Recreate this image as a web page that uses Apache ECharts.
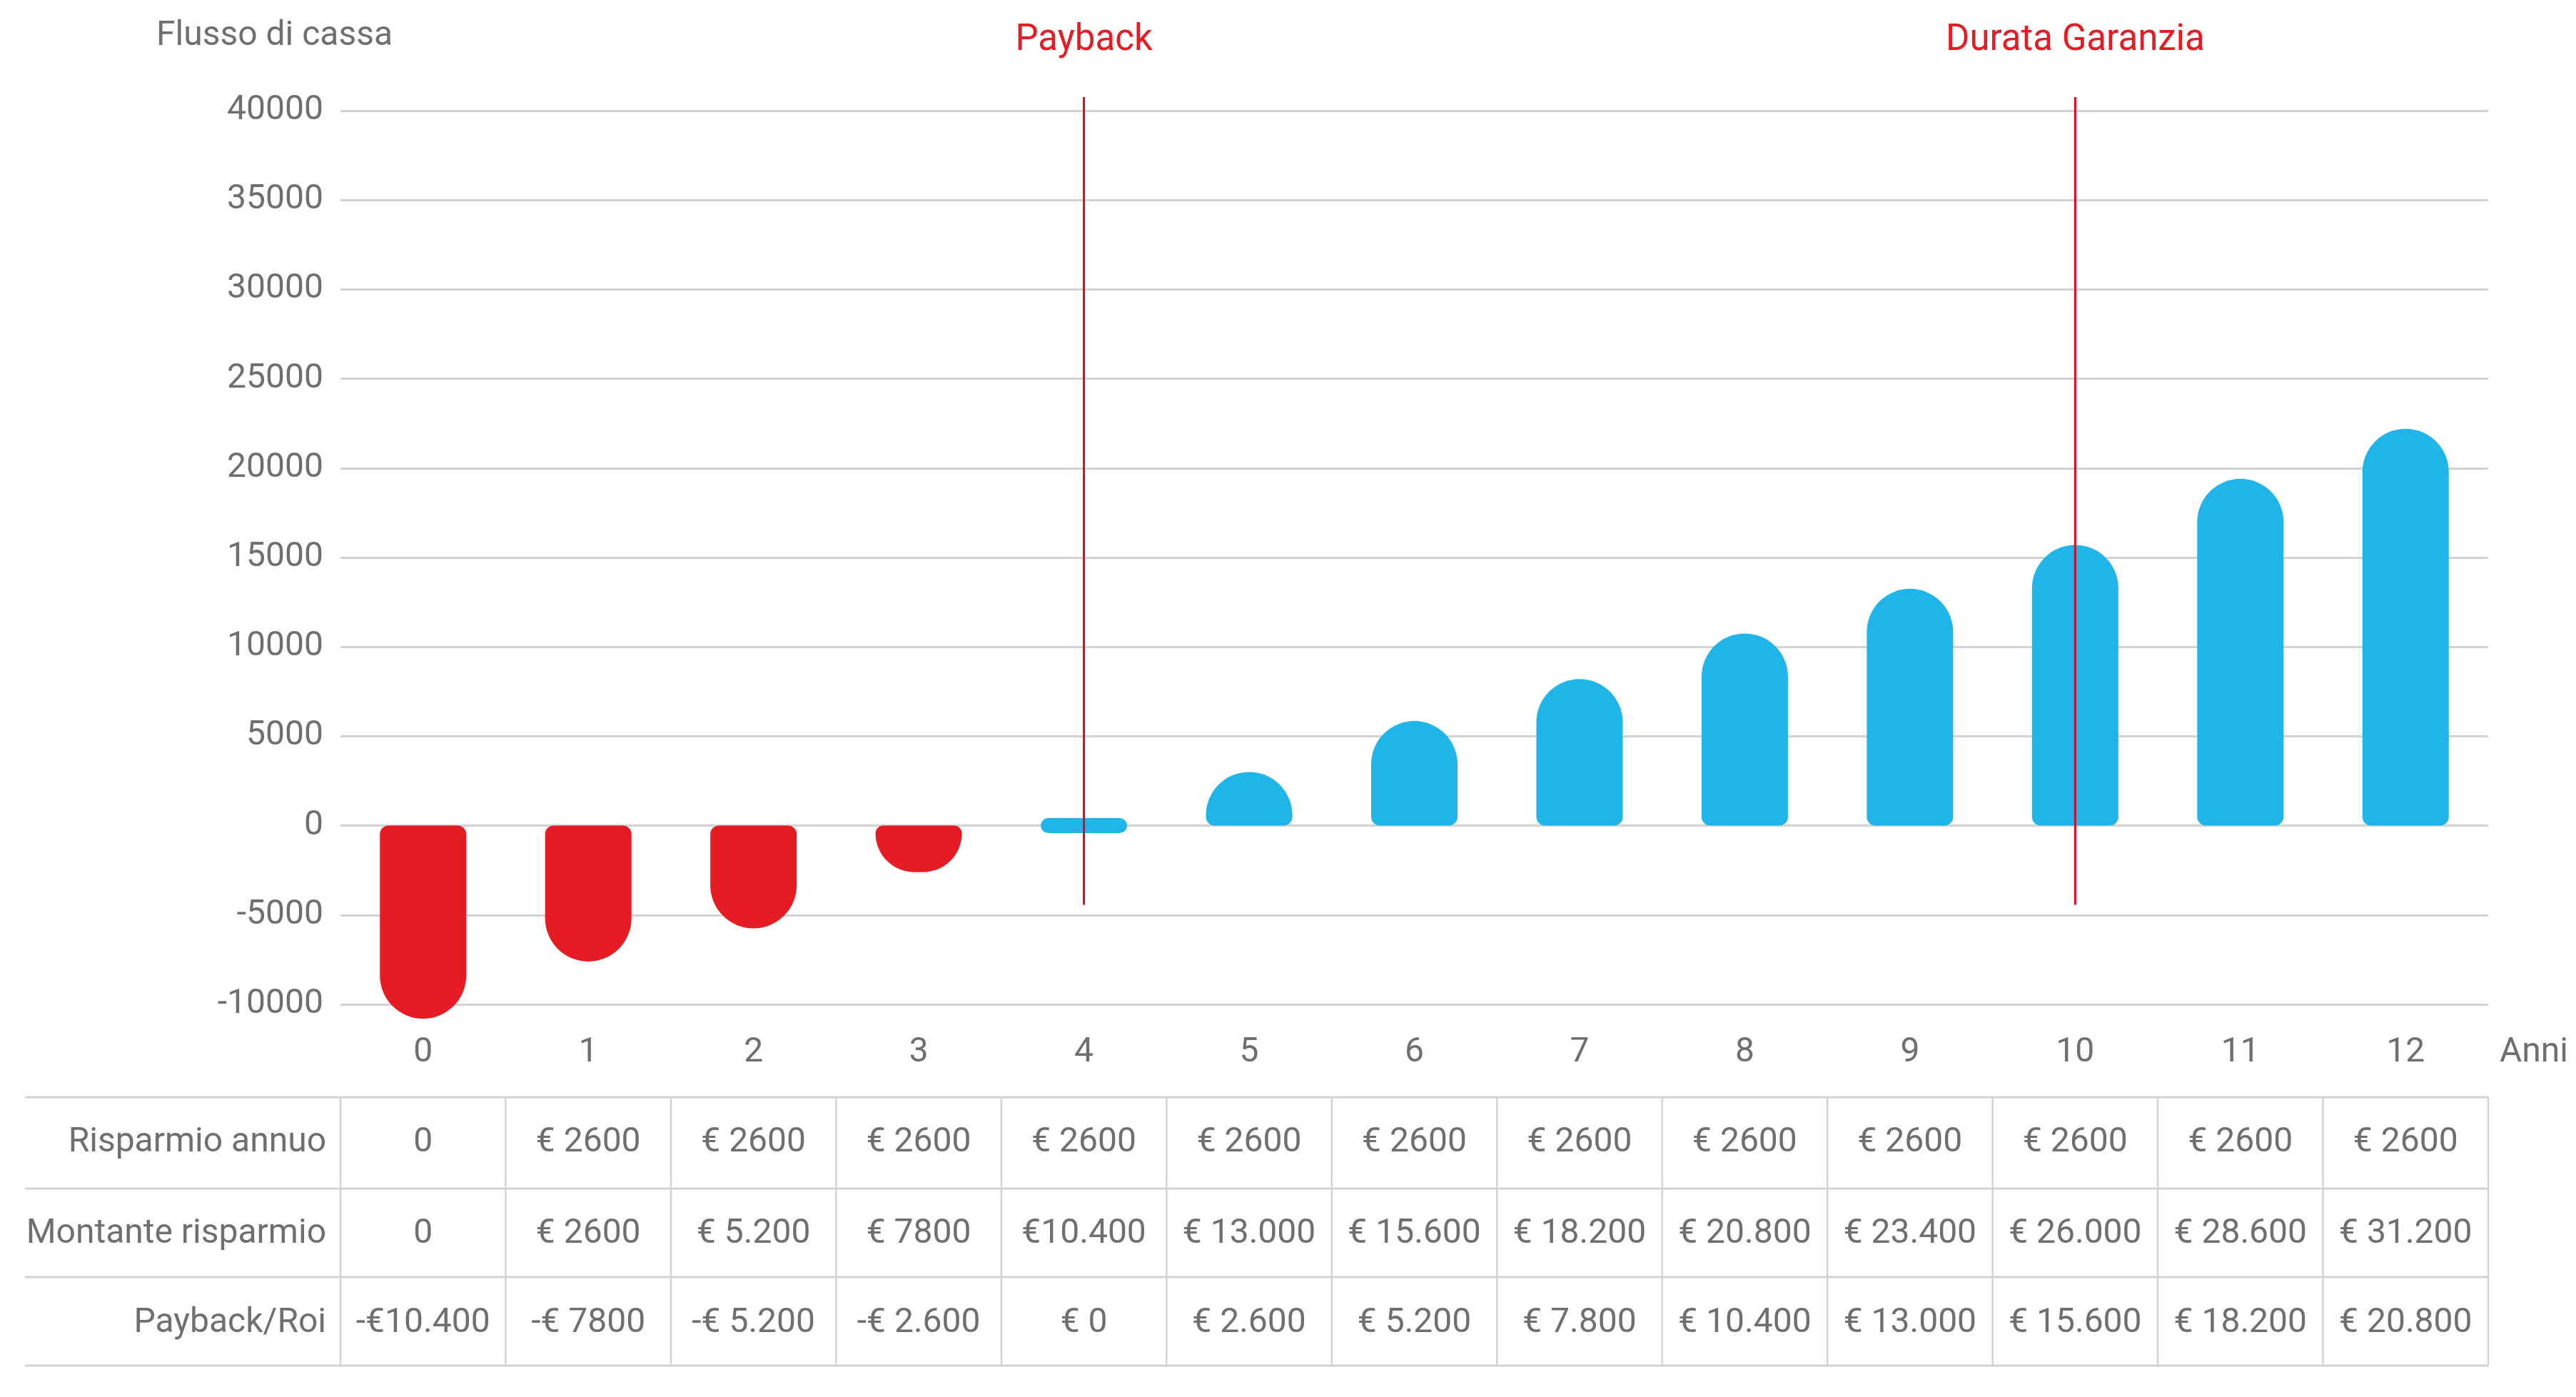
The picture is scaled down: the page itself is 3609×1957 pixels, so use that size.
<!DOCTYPE html>
<html>
<head>
<meta charset="utf-8">
<script src="https://cdn.jsdelivr.net/npm/echarts@6/dist/echarts.min.js"></script>
<style>
html,body{margin:0;padding:0;background:#ffffff;}
#chart{width:3609px;height:1957px;}
</style>
</head>
<body>
<div id="chart"></div>
<script>
// ---------- data ----------
const years = ['0','1','2','3','4','5','6','7','8','9','10','11','12'];
const cashFlow = [-10800, -7600, -5750, -2600, 0, 3000, 5850, 8200, 10750, 13250, 15700, 19400, 22200];
const yMin = -10000;
const yMax = 40000;
const yInterval = 5000;
const markerNames = ['Payback', 'Durata Garanzia'];
const markerYears = [4, 10];
const markerSpan = [-4430, 40760];
const yAxisTitle = 'Flusso di cassa';
const xAxisTitle = 'Anni';
const rowNames = ['Risparmio annuo', 'Montante risparmio', 'Payback/Roi'];
const risparmioAnnuo = ['0','€ 2600','€ 2600','€ 2600','€ 2600','€ 2600','€ 2600','€ 2600','€ 2600','€ 2600','€ 2600','€ 2600','€ 2600'];
const montanteRisparmio = ['0','€ 2600','€ 5.200','€ 7800','€10.400','€ 13.000','€ 15.600','€ 18.200','€ 20.800','€ 23.400','€ 26.000','€ 28.600','€ 31.200'];
const paybackRoi = ['-€10.400','-€ 7800','-€ 5.200','-€ 2.600','€ 0','€ 2.600','€ 5.200','€ 7.800','€ 10.400','€ 13.000','€ 15.600','€ 18.200','€ 20.800'];

// ---------- style ----------
const FONT = 'Roboto';
const FS = 48;
const GRAY = '#6f6f6f';
const RED = '#e51c23';
const LINE_RED = '#e0071b';
const BLUE = '#20b5e8';
const GRID_C = '#d3d3d3';
const BAR_W = 121;

const chart = echarts.init(document.getElementById('chart'), null, {renderer: 'canvas'});

const capsule = 'path://M10.5,0H110.5A10.5,10.5,0,0,1,110.5,21H10.5A10.5,10.5,0,0,1,10.5,0Z';

const option = {
  animation: false,
  backgroundColor: '#ffffff',
  grid: {left: 477, right: 123, top: 155, bottom: 550, containLabel: false, outerBoundsMode: 'none'},
  xAxis: {
    type: 'category',
    data: years,
    axisLine: {show: false, onZero: false},
    axisTick: {show: false},
    axisLabel: {margin: 44, fontSize: FS, color: GRAY, fontFamily: FONT},
    splitLine: {show: false},
    name: xAxisTitle,
    nameLocation: 'end',
    nameGap: 16,
    nameTextStyle: {fontSize: FS, color: GRAY, fontFamily: FONT, align: 'left', verticalAlign: 'top', padding: [44, 0, 0, 0]}
  },
  yAxis: {
    type: 'value',
    min: yMin, max: yMax, interval: yInterval,
    axisLine: {show: false},
    axisTick: {show: false},
    axisLabel: {margin: 24, fontSize: FS, color: GRAY, fontFamily: FONT, formatter: v => String(v)},
    splitLine: {show: true, lineStyle: {color: GRID_C, width: 3}}
  },
  series: [
    {
      type: 'bar',
      barWidth: BAR_W,
      clip: false,
      z: 2,
      data: cashFlow.map(v => ({
        value: v,
        itemStyle: {
          color: v < 0 ? RED : BLUE,
          borderRadius: v < 0 ? [12, 12, 61, 61] : [61, 61, 12, 12]
        }
      }))
    },
    {
      type: 'pictorialBar',
      z: 3,
      symbol: capsule,
      symbolSize: [BAR_W, 21],
      symbolPosition: 'center',
      itemStyle: {color: BLUE},
      data: cashFlow.map(v => v === 0 ? v : '-')
    }
  ],
  graphic: [
    {
      type: 'text', left: 219, top: 27,
      style: {text: yAxisTitle, fill: GRAY, fontSize: FS, fontFamily: FONT}
    }
  ]
};
chart.setOption(option);

// ---------- reference lines (through the chart's own scales) ----------
const els = [];
markerNames.forEach((n, i) => {
  const p0 = chart.convertToPixel({gridIndex: 0}, [markerYears[i], markerSpan[0]]);
  const p1 = chart.convertToPixel({gridIndex: 0}, [markerYears[i], markerSpan[1]]);
  els.push({
    type: 'line', silent: true, z: 10,
    shape: {x1: p0[0], y1: p0[1], x2: p1[0], y2: p1[1]},
    style: {stroke: LINE_RED, lineWidth: 3}
  });
  els.push({
    type: 'text', silent: true, z: 10,
    style: {text: n, x: p1[0], y: 57, align: 'center', verticalAlign: 'middle', fill: RED, fontSize: 51, fontWeight: 'normal', fontFamily: FONT}
  });
});

// ---------- table under the chart ----------
const centers = years.map((y, i) => chart.convertToPixel({xAxisIndex: 0}, i));
const step = centers[1] - centers[0];
const bounds = [centers[0] - step / 2].concat(centers.map(c => c + step / 2));
const tableLeft = 35;
const tableRight = bounds[bounds.length - 1];
const rowLines = [1537, 1665, 1789, 1913];
const rowText = [1601, 1729, 1854];
const rows = [risparmioAnnuo, montanteRisparmio, paybackRoi];
rowLines.forEach(y => els.push({
  type: 'line', shape: {x1: tableLeft, y1: y, x2: tableRight, y2: y},
  style: {stroke: GRID_C, lineWidth: 3}, silent: true
}));
bounds.forEach(x => els.push({
  type: 'line', shape: {x1: x, y1: rowLines[0], x2: x, y2: rowLines[rowLines.length - 1]},
  style: {stroke: GRID_C, lineWidth: 2.5}, silent: true
}));
rowNames.forEach((n, r) => els.push({
  type: 'text', silent: true,
  style: {text: n, x: bounds[0] - 20, y: rowText[r], align: 'right', verticalAlign: 'middle', fill: GRAY, fontSize: FS, fontFamily: FONT}
}));
rows.forEach((row, r) => row.forEach((t, i) => els.push({
  type: 'text', silent: true,
  style: {text: t, x: centers[i], y: rowText[r], align: 'center', verticalAlign: 'middle', fill: GRAY, fontSize: FS, fontFamily: FONT}
})));
chart.setOption({graphic: option.graphic.concat(els)});
</script>
</body>
</html>
